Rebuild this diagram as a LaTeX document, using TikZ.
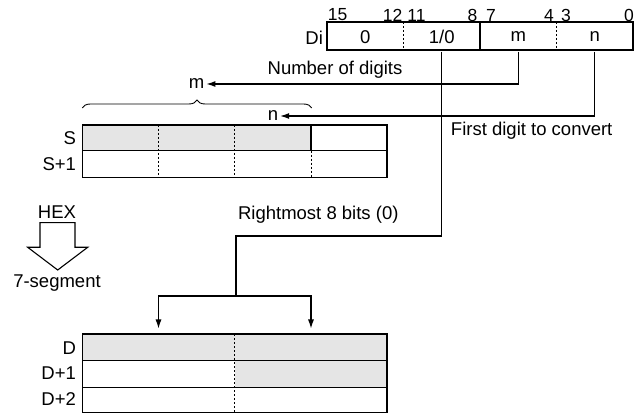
\documentclass[tikz,border=0pt]{standalone}
\usepackage{fontspec}
\setmainfont{Liberation Sans}
\usetikzlibrary{calc,positioning,arrows.meta,decorations.pathreplacing}
\definecolor{cellgray}{gray}{0.9}

\begin{document}
\begin{tikzpicture}[x=1pt,y=-1pt,line width=1.1pt,
  lbl/.style={font=\fontsize{18.5}{20}\selectfont,inner sep=1.5pt},
  field/.style={lbl,minimum width=76.5pt,minimum height=28pt,inner sep=0pt},
  divd/.style={line width=0.7pt,dash pattern=on 2pt off 2pt},
  tip/.style={-{Latex[length=9pt,width=6pt]}}]
  \useasboundingbox (0,0) rectangle (643,414);
  % Di word
  \node[field] (fa) at (365.25,37) {0};
  \node[field] (fb) at (441.75,37) {1/0};
  \node[field] (fc) at (518.25,37) {m};
  \node[field] (fd) at (594.75,37) {n};
  \draw (327,22) rectangle (633,50);
  \draw (480,22)--(480,50);
  \foreach \x in {403.5,556.5} \draw[divd] (\x,22)--(\x,50);
  \node[lbl,anchor=east] (di) at (325,38) {Di};
  \foreach \b/\x in {15/337.5,12/392.5,11/416.5,8/472.5,7/491,4/549,3/566,0/629}
    \node[lbl,font=\fontsize{17.5}{19}\selectfont,inner sep=0pt] (bit\b) at (\x,15) {\b};
  % S word
  \fill[cellgray] (82.3,125) rectangle (311,150.7);
  \draw (82.3,125) rectangle (387,177.3);
  \draw (82.3,150.7)--(387,150.7);
  \draw (311,125)--(311,150.7);
  \foreach \x in {158.5,234.7} \draw[divd] (\x,125)--(\x,177.3);
  \draw[divd] (311,150.7)--(311,177.3);
  \node[lbl,anchor=east] (s0) at (78,138) {S};
  \node[lbl,anchor=east] (s1) at (78,164) {S+1};
  \draw[line width=0.9pt,decorate,decoration={brace,amplitude=8pt}] (82.3,108)--(311.7,108);
  % labels
  \node[lbl] (mlab) at (196.7,84) {m};
  \node[lbl] (nlab) at (273,116) {n};
  \node[lbl] (ndig) at (335,70) {Number of digits};
  \node[lbl] (first) at (531.7,131) {First digit to convert};
  \node[lbl] (right) at (318.3,215) {Rightmost 8 bits (0)};
  \draw[tip] (fc.south) |- (mlab.east);
  \draw[tip] (fd.south) |- (nlab.east);
  % HEX -> 7-segment
  \node[lbl] (hex) at (57,211.7) {HEX};
  \node[lbl] (seg) at (57,283.3) {7-segment};
  \draw (40,222.7) -- (40,247.3) -- (27.7,247.3) -- (57.7,270) -- (87.7,247.3) -- (75,247.3) -- (75,222.7) -- cycle;
  % D words
  \fill[cellgray] (82.3,334) rectangle (387,360.7);
  \fill[cellgray] (234.7,360.7) rectangle (387,387.3);
  \draw (82.3,334) rectangle (387,412.7);
  \draw (82.3,360.7)--(387,360.7);
  \draw (82.3,387.3)--(387,387.3);
  \draw[divd] (234.7,334)--(234.7,412.7);
  \node[lbl,anchor=east] (d0) at (78,348) {D};
  \node[lbl,anchor=east] (d1) at (78,373.5) {D+1};
  \node[lbl,anchor=east] (d2) at (78,399) {D+2};
  % 1/0 to D
  \coordinate (bend) at (236,236);
  \coordinate (jn) at (236,296);
  \coordinate (dl) at (158.5,328.5);
  \coordinate (dr) at (311,328.5);
  \draw (fb.south) |- (bend) -- (jn);
  \draw[tip] (jn) -| (dl);
  \draw[tip] (jn) -| (dr);
\end{tikzpicture}
\end{document}
